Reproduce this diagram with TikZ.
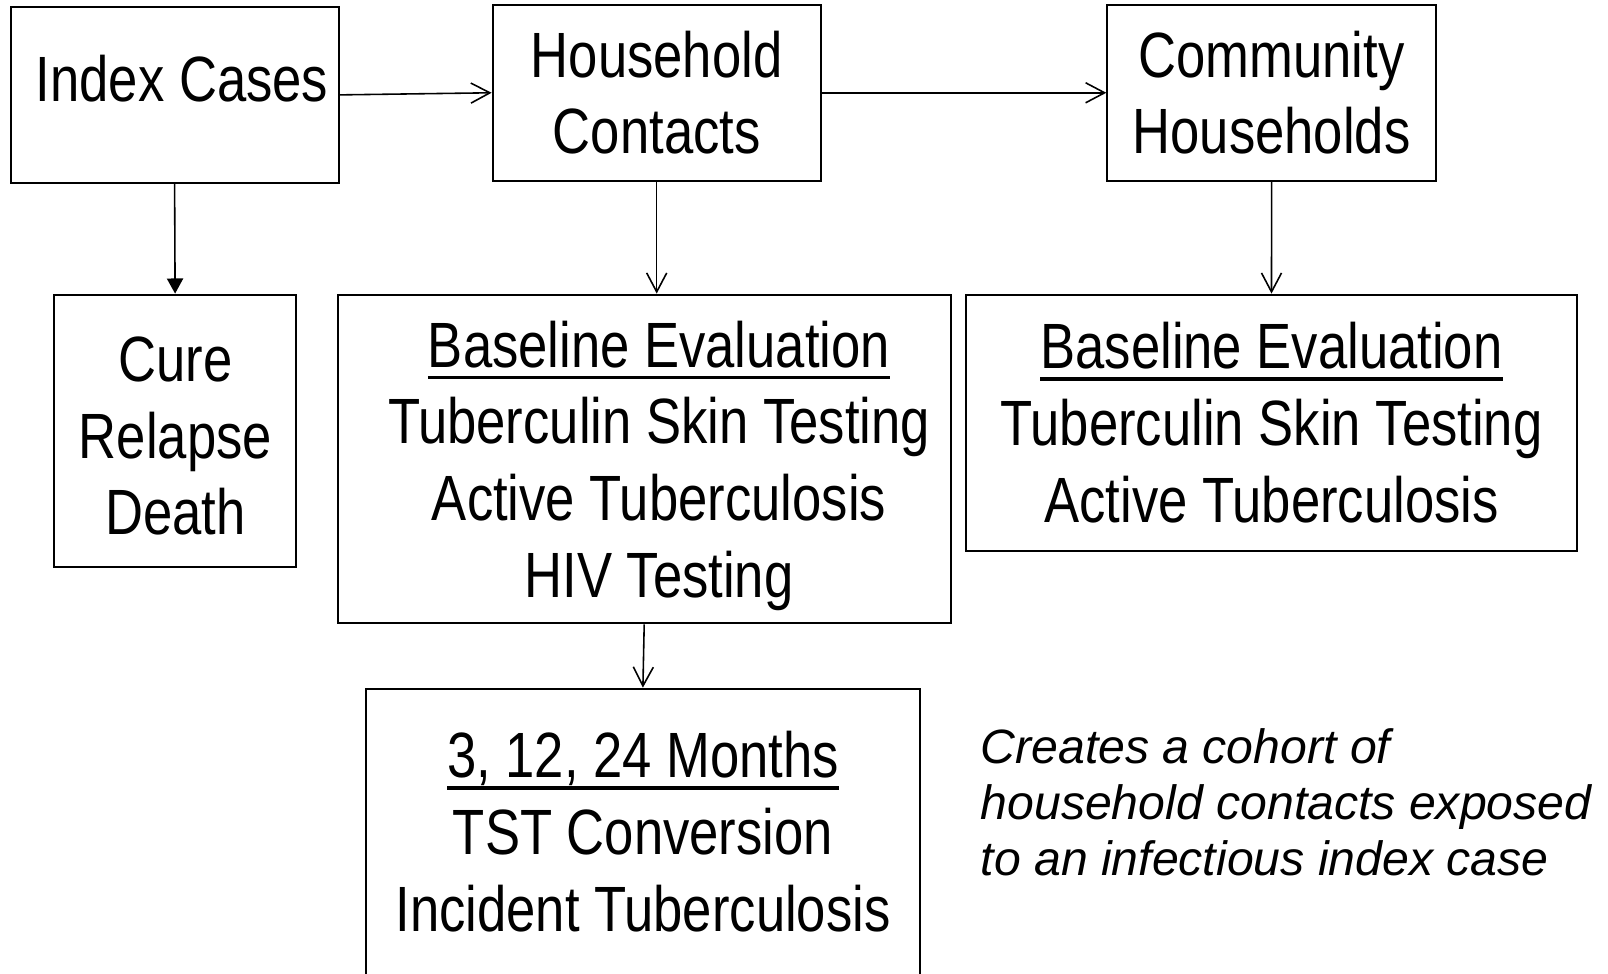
\documentclass[tikz,border=0pt]{standalone}
\usepackage{fontspec}
\setmainfont{Liberation Sans}[FakeStretch=0.822]
\newfontfamily\notefont{Liberation Sans}
\usetikzlibrary{positioning}
\usetikzlibrary{arrows.meta}
\newcommand{\undl}[1]{\setbox0\hbox{#1}\rlap{\copy0}\rule[-3.4pt]{\wd0}{1pt}}

\begin{document}
\begin{tikzpicture}[x=0.01cm,y=-0.01cm,
    every node/.style={font=\fontsize{18.2pt}{21.8pt}\selectfont},
    box/.style={draw,line width=0.57pt,inner sep=0pt,align=center},
    txt/.style={inner sep=0pt,align=center},
    note/.style={inner sep=0pt,align=left,font=\notefont\itshape\fontsize{13.7pt}{16pt}\selectfont},
    arr/.style={line width=0.45pt,-{Straight Barb[length=5.4pt,width=5.7pt]}},
    farr/.style={line width=0.45pt,-{Triangle[length=4.3pt,width=4.6pt]}}]
\useasboundingbox (0,0) rectangle (1608,974);
\node[box,minimum width=3.28cm,minimum height=1.755cm] (idx) at (174.6,94.9) {};
\node[txt,anchor=base] (idxtext) at (182,101.7) {Index Cases};
\node[box,minimum width=3.28cm,minimum height=1.763cm] (hc) at (656.7,92.8) {Household\\Contacts};
\node[box,minimum width=3.284cm,minimum height=1.763cm] (ch) at (1271.6,92.8) {Community\\Households};
\node[box,minimum width=2.425cm,minimum height=2.72cm] (cure) at (175.1,430.7) {};
\node[txt,anchor=north] (curetext) at (175.4,336) {Cure\\Relapse\\Death};
\node[box,minimum width=6.124cm,minimum height=3.286cm] (bm) at (644.2,459) {};
\node[txt,anchor=north] (bmtext) at (659,320.2)
    {\undl{Baseline Evaluation}\\Tuberculin Skin Testing\\Active Tuberculosis\\HIV Testing};
\node[box,minimum width=6.11cm,minimum height=2.56cm] (br) at (1271.5,422.7)
    {\undl{Baseline Evaluation}\\Tuberculin Skin Testing\\Active Tuberculosis};
\node[box,minimum width=5.539cm,minimum height=3.013cm] (bot) at (642.9,839.4) {};
\node[txt,anchor=north] (bottext) at (643,730.9)
    {\undl{3, 12, 24 Months}\\TST Conversion\\Incident Tuberculosis};
\node[note,anchor=north west] (cohort) at (980,727.8)
    {Creates a cohort of\\household contacts exposed\\to an infectious index case};
\draw[arr] (idx.east) -- (hc.west);
\draw[arr] (hc.east) -- (ch.west);
\draw[farr] (idx.south) -- (cure.north);
\draw[arr] (hc.south) -- (hc.south |- bm.north);
\draw[arr] (ch.south) -- (br.north);
\draw[arr] (bm.south) -- (bot.north);
\end{tikzpicture}
\end{document}
